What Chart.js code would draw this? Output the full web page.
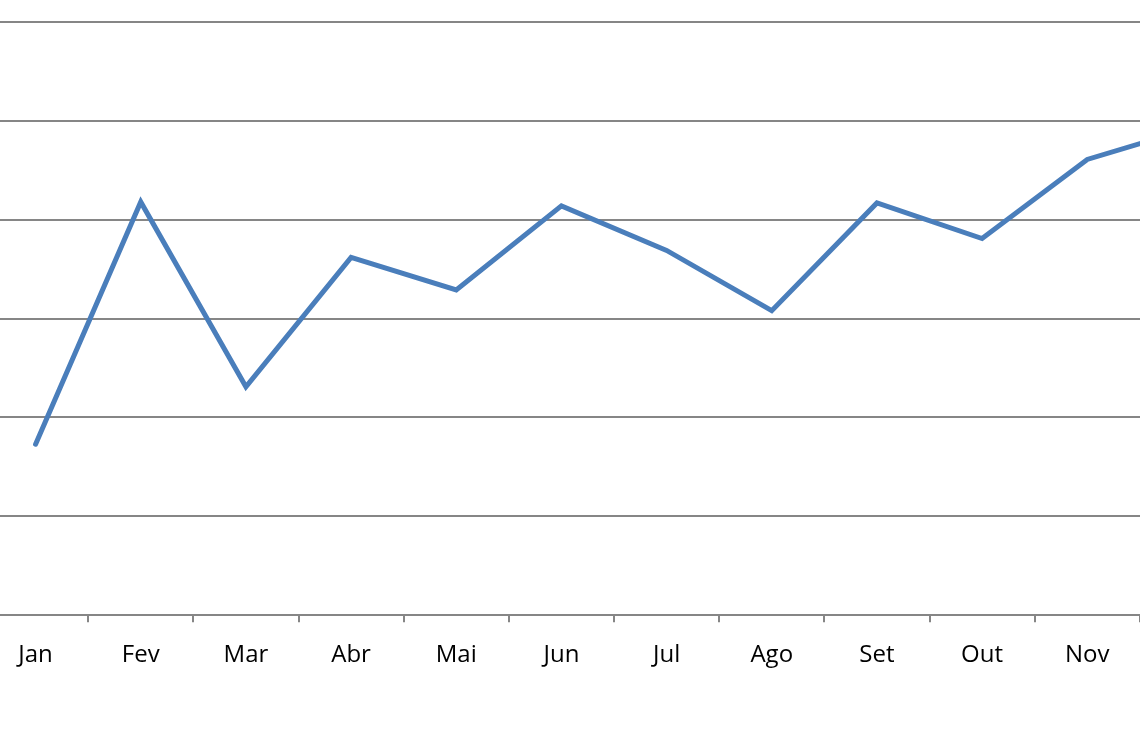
<!DOCTYPE html>
<html>
<head>
<meta charset="utf-8">
<script src="https://cdn.jsdelivr.net/npm/chart.js@4"></script>
<style>
  html, body { margin: 0; padding: 0; background: #fff; overflow: hidden; }
  #wrap { position: absolute; left: -17px; top: 0; width: 1262px; height: 742px; }
</style>
</head>
<body>
<div id="wrap"><canvas id="canvas"></canvas></div>
<script>
  const meses = ["Jan", "Fev", "Mar", "Abr", "Mai", "Jun", "Jul", "Ago", "Set", "Out", "Nov", "Dez"];
  const valores = [17.3, 41.8, 23.1, 36.2, 32.9, 41.4, 36.9, 30.8, 41.7, 38.1, 46.1, 49.3];

  const gray = "#868686";
  const blue = "#4a7ebb";

  const ctx = document.getElementById("canvas").getContext("2d");

  new Chart(ctx, {
    type: "line",
    data: {
      labels: meses,
      datasets: [{
        data: valores,
        borderColor: blue,
        borderWidth: 5,
        borderCapStyle: "round",
        borderJoinStyle: "miter",
        pointRadius: 0,
        tension: 0,
        fill: false
      }]
    },
    options: {
      responsive: true,
      maintainAspectRatio: false,
      animation: false,
      layout: { padding: { top: 22, left: 0, right: 0, bottom: 53 } },
      plugins: {
        legend: { display: false },
        tooltip: { enabled: false }
      },
      scales: {
        x: {
          offset: true,
          grid: {
            offset: true,
            drawOnChartArea: false,
            drawTicks: true,
            tickLength: 7,
            color: gray,
            lineWidth: 2
          },
          border: { color: gray, width: 2 },
          ticks: {
            color: "#000",
            font: { family: "Open Sans", size: 24 },
            padding: 19,
            maxRotation: 0,
            autoSkip: false
          }
        },
        y: {
          min: 0,
          max: 60,
          ticks: { display: false, stepSize: 10 },
          border: { display: false },
          grid: {
            color: gray,
            lineWidth: 2,
            drawTicks: false
          }
        }
      }
    }
  });
</script>
</body>
</html>
